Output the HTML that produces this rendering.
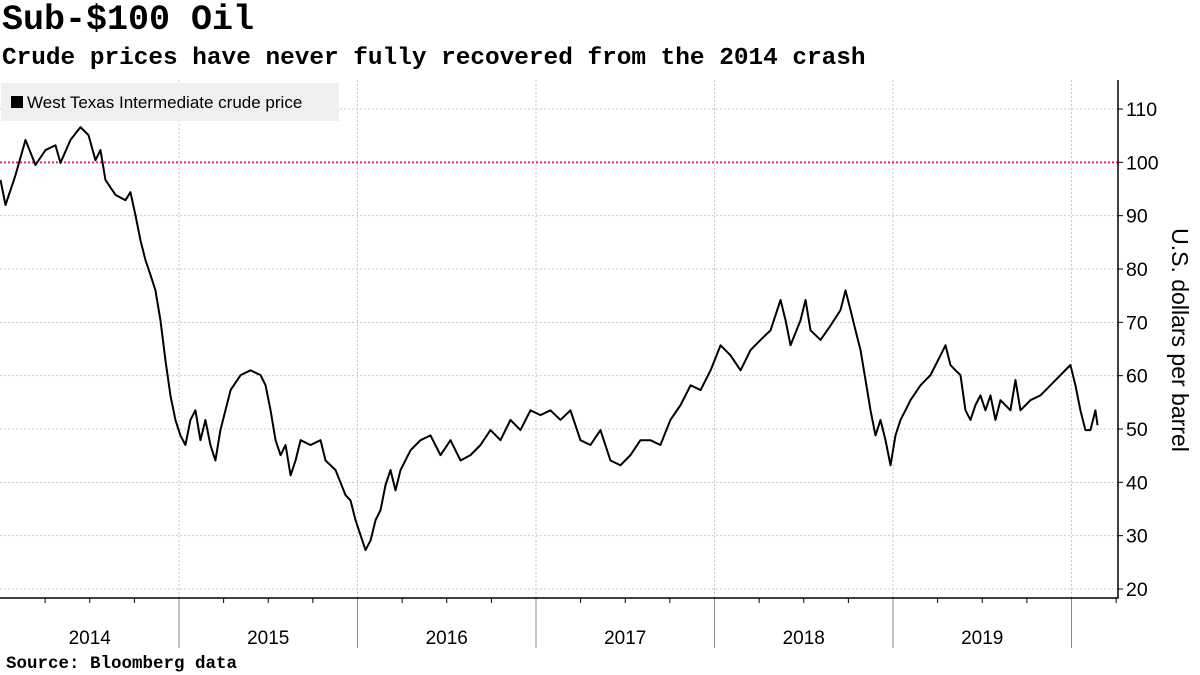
<!DOCTYPE html>
<html><head><meta charset="utf-8"><style>
body{margin:0;background:#fff;width:1200px;height:675px;overflow:hidden;font-family:"Liberation Sans",sans-serif}
.t{position:absolute;left:2px;font-family:"Liberation Mono",monospace;font-weight:bold;color:#000;white-space:nowrap}
</style></head><body>
<div class="t" style="top:0px;font-size:35px">Sub-$100 Oil</div>
<div class="t" style="top:45px;font-size:24.4px">Crude prices have never fully recovered from the 2014 crash</div>
<div class="t" style="top:654px;left:6px;font-size:17.5px">Source: Bloomberg data</div>
<svg id="c" width="1200" height="675" style="position:absolute;left:0;top:0"></svg>
<script>
const dates=[2014.000,2014.028,2014.084,2014.140,2014.196,2014.252,2014.308,2014.336,2014.392,2014.448,2014.493,2014.532,2014.560,2014.588,2014.644,2014.700,2014.728,2014.756,2014.784,2014.812,2014.840,2014.868,2014.896,2014.924,2014.952,2014.980,2015.008,2015.036,2015.064,2015.092,2015.120,2015.148,2015.176,2015.204,2015.232,2015.289,2015.345,2015.401,2015.457,2015.485,2015.513,2015.541,2015.569,2015.597,2015.625,2015.653,2015.681,2015.737,2015.793,2015.821,2015.877,2015.933,2015.961,2015.989,2016.017,2016.045,2016.073,2016.101,2016.129,2016.157,2016.185,2016.213,2016.241,2016.297,2016.353,2016.409,2016.465,2016.521,2016.577,2016.633,2016.689,2016.745,2016.801,2016.857,2016.913,2016.969,2017.025,2017.081,2017.137,2017.193,2017.249,2017.305,2017.361,2017.417,2017.473,2017.529,2017.585,2017.641,2017.697,2017.753,2017.810,2017.866,2017.922,2017.978,2018.034,2018.090,2018.146,2018.202,2018.258,2018.314,2018.370,2018.398,2018.426,2018.482,2018.510,2018.538,2018.594,2018.650,2018.706,2018.734,2018.762,2018.790,2018.818,2018.846,2018.874,2018.902,2018.930,2018.958,2018.986,2019.014,2019.042,2019.070,2019.098,2019.154,2019.210,2019.266,2019.294,2019.322,2019.350,2019.378,2019.406,2019.434,2019.462,2019.490,2019.518,2019.546,2019.574,2019.602,2019.658,2019.686,2019.714,2019.770,2019.826,2019.882,2019.938,2019.994,2020.022,2020.050,2020.078,2020.106,2020.134,2020.146];
const prices=[96.7,92,97.6,104.2,99.5,102.3,103.2,99.9,104.2,106.6,105.1,100.4,102.3,96.7,93.9,92.9,94.4,90.1,85.4,81.7,78.9,76,70.4,62.9,56.3,51.7,48.8,47,51.7,53.5,47.9,51.7,47,44.1,49.8,57.3,60.1,61,60.1,58.2,53.5,47.9,45.1,47,41.3,44.1,47.9,47,47.9,44.1,42.3,37.6,36.6,32.9,30.1,27.3,29.1,32.9,34.8,39.5,42.3,38.5,42.3,46,47.9,48.8,45.1,47.9,44.1,45.1,47,49.8,47.9,51.7,49.8,53.5,52.6,53.5,51.7,53.5,47.9,47,49.8,44.1,43.2,45.1,47.9,47.9,47,51.7,54.5,58.2,57.3,61,65.7,63.8,61,64.8,66.7,68.5,74.2,70.4,65.7,70.4,74.2,68.5,66.7,69.4,72.3,76,72.3,68.5,64.8,59.2,53.5,48.8,51.7,47.9,43.2,48.8,51.7,53.5,55.4,58.2,60.1,63.8,65.7,62,61,60.1,53.5,51.7,54.5,56.3,53.5,56.3,51.7,55.4,53.5,59.2,53.5,55.4,56.3,58.2,60.1,62,58.2,53.5,49.8,49.8,53.5,50.7];
const yTicks=[20,30,40,50,60,70,80,90,100,110];
const years=[2014,2015,2016,2017,2018,2019];
const refLine=100;
const NS="http://www.w3.org/2000/svg",svg=document.getElementById('c');
const X0=0.5,PXY=178.5,R=1118,B=598;
const x=d=>X0+(d-2014)*PXY;
const y=v=>589-(v-20)*(480/90);
function el(t,a,p){const e=document.createElementNS(NS,t);for(const k in a)e.setAttribute(k,a[k]);(p||svg).appendChild(e);return e;}
yTicks.forEach(v=>{
const g=el('line',{x1:0,x2:R,y1:y(v),y2:y(v),stroke:'#c8c8c8','stroke-dasharray':'2,2'});


const tk=el('line',{x1:R,x2:R+5,y1:y(v),y2:y(v),stroke:'#000'});


const t=el('text',{x:R+8,y:y(v)+7,'font-size':'19.5','font-family':'Liberation Sans, sans-serif',fill:'#000'});
t.textContent=v;


});
years.concat([2020]).forEach((yr,i)=>{
if(i>0){const g=el('line',{x1:x(yr),x2:x(yr),y1:80,y2:B,stroke:'#c8c8c8','stroke-dasharray':'2,2'});


const s=el('line',{x1:x(yr),x2:x(yr),y1:B,y2:B+50,stroke:'#888'});

}
for(let q=1;q<4;q++){if(yr+q*0.25>2020.3)break;const m=el('line',{x1:x(yr+q*0.25),x2:x(yr+q*0.25),y1:B,y2:B+5,stroke:'#000'});

}
});
years.forEach(yr=>{
const t=el('text',{x:x(yr+0.5),y:644,'font-size':'19','text-anchor':'middle','font-family':'Liberation Sans, sans-serif',fill:'#000'});
t.textContent=yr;


});
const rl=el('line',{x1:0,x2:R,y1:y(refLine),y2:y(refLine),stroke:'#e8274b','stroke-width':2,'stroke-dasharray':'2,2'});


const ax=el('path',{d:`M${R} 80V${B}H0`,stroke:'#000',fill:'none','stroke-width':1.5});


const ln=el('polyline',{points:dates.map((d,i)=>x(d)+','+y(prices[i])).join(' '),fill:'none',stroke:'#000','stroke-width':2,'stroke-linejoin':'round'});


const lg=el('g',{});


el('rect',{x:1,y:83,width:338,height:38,fill:'#efefef'},lg);
el('rect',{x:11,y:96,width:12,height:12,fill:'#000'},lg);
const lt=el('text',{x:27,y:108,'font-size':'17','font-family':'Liberation Sans, sans-serif',fill:'#000'},lg);
lt.textContent='West Texas Intermediate crude price';


const yt=el('text',{x:1172,y:340,'font-size':'23','text-anchor':'middle','font-family':'Liberation Sans, sans-serif',fill:'#000',transform:'rotate(90 1172 340)'});
yt.textContent='U.S. dollars per barrel';


</script>
</body></html>
